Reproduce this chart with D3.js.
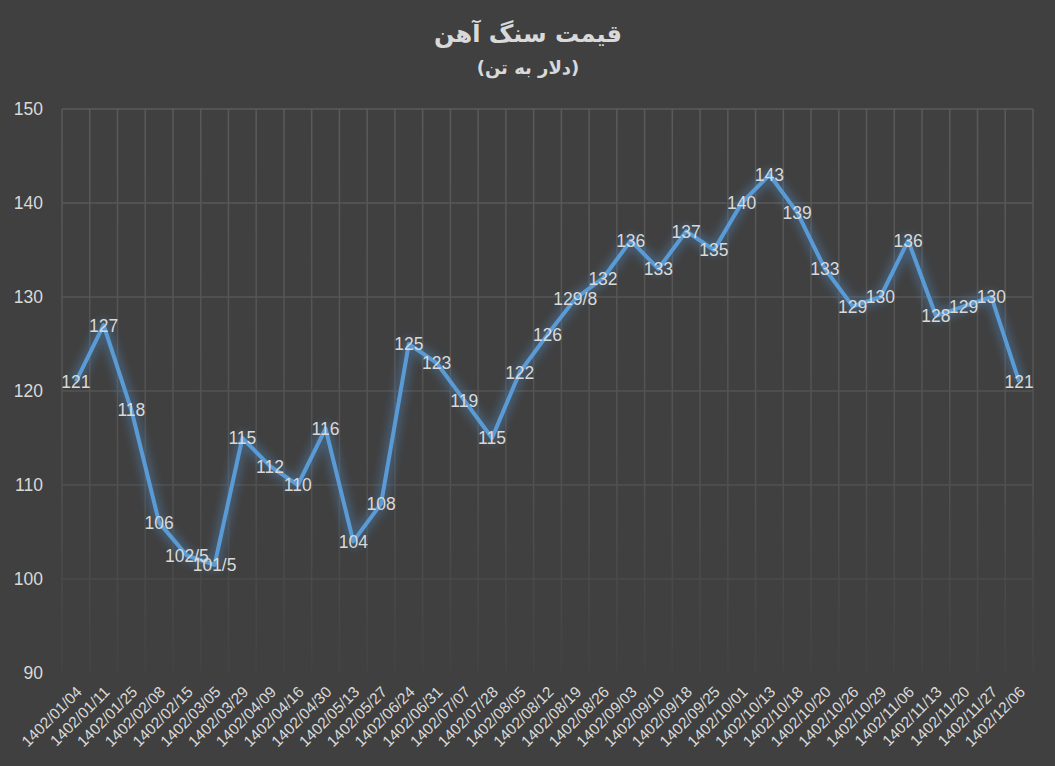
<!DOCTYPE html>
<html>
<head>
<meta charset="utf-8">
<script src="https://cdn.jsdelivr.net/npm/d3@7"></script>
<style>
  html, body { margin: 0; padding: 0; background: #404040; }
  svg { display: block; }
</style>
</head>
<body>
<svg id="chart"></svg>
<script>
// Dates (Solar Hijri) and iron ore price, dollars per tonne
const dates = [
    "1402/01/04", "1402/01/11", "1402/01/25", "1402/02/08", "1402/02/15",
    "1402/03/05", "1402/03/29", "1402/04/09", "1402/04/16", "1402/04/30",
    "1402/05/13", "1402/05/27", "1402/06/24", "1402/06/31", "1402/07/07",
    "1402/07/28", "1402/08/05", "1402/08/12", "1402/08/19", "1402/08/26",
    "1402/09/03", "1402/09/10", "1402/09/18", "1402/09/25", "1402/10/01",
    "1402/10/13", "1402/10/18", "1402/10/20", "1402/10/26", "1402/10/29",
    "1402/11/06", "1402/11/13", "1402/11/20", "1402/11/27", "1402/12/06"
];
const prices = [
    121, 127, 118, 106, 102.5,
    101.5, 115, 112, 110, 116,
    104, 108, 125, 123, 119,
    115, 122, 126, 129.8, 132,
    136, 133, 137, 135, 140,
    143, 139, 133, 129, 130,
    136, 128, 129, 130, 121
];
const yTicks = [90, 100, 110, 120, 130, 140, 150];
const titleText = "قیمت سنگ آهن";
const subtitleText = "(دلار به تن)";

document.addEventListener('DOMContentLoaded', function () {
    drawChart('chart');
});

function drawChart(id) {
    const svgWidth = 1055;
    const svgHeight = 766;
    const margin = { top: 109, right: 22, bottom: 93, left: 62 };
    const width = svgWidth - margin.left - margin.right;
    const height = svgHeight - margin.top - margin.bottom;
    const textColor = "#d9d9d9";

    const root = d3.select(`#${id}`)
        .attr("width", svgWidth)
        .attr("height", svgHeight);

    root.append("rect")
        .attr("width", svgWidth)
        .attr("height", svgHeight)
        .attr("fill", "#404040");

    const defs = root.append("defs");

    // grid fades out toward the bottom
    const grad = defs.append("linearGradient")
        .attr("id", "gridFade")
        .attr("gradientUnits", "userSpaceOnUse")
        .attr("x1", 0).attr("y1", 0)
        .attr("x2", 0).attr("y2", height);
    grad.append("stop").attr("offset", "0%").attr("stop-color", "#5a5a5a");
    grad.append("stop").attr("offset", "65%").attr("stop-color", "#515151");
    grad.append("stop").attr("offset", "100%").attr("stop-color", "#434343");

    // soft glow under the line
    const glow = defs.append("filter")
        .attr("id", "glow")
        .attr("x", "-10%").attr("y", "-10%")
        .attr("width", "120%").attr("height", "120%");
    glow.append("feGaussianBlur")
        .attr("in", "SourceGraphic")
        .attr("stdDeviation", 4.5);

    const svg = root.append("g")
        .attr("transform", `translate(${margin.left},${margin.top})`);

    const x = d3.scaleBand()
        .domain(dates)
        .range([0, width]);

    const y = d3.scaleLinear()
        .domain([90, 150])
        .range([height, 0]);

    const cx = d => x(d) + x.bandwidth() / 2;

    // vertical grid at category boundaries
    const bounds = dates.map(d => x(d)).concat([width]);
    svg.append("g")
        .attr("class", "grid x-grid")
        .selectAll("line")
        .data(bounds)
        .join("line")
        .attr("x1", d => d)
        .attr("x2", d => d)
        .attr("y1", 0)
        .attr("y2", height)
        .attr("stroke", "url(#gridFade)")
        .attr("stroke-width", 1.5);

    // horizontal grid
    svg.append("g")
        .attr("class", "grid y-grid")
        .selectAll("line")
        .data(yTicks.filter(t => t > 90))
        .join("line")
        .attr("x1", 0)
        .attr("x2", width)
        .attr("y1", d => y(d))
        .attr("y2", d => y(d))
        .attr("stroke", "url(#gridFade)")
        .attr("stroke-width", 1.5);

    // Y axis labels
    const yAxis = svg.append("g")
        .attr("class", "axis y-axis")
        .call(d3.axisLeft(y).tickValues(yTicks).tickSize(0).tickPadding(19));
    yAxis.select(".domain").remove();
    yAxis.selectAll("text")
        .attr("fill", textColor)
        .attr("font-size", 17.5)
        .attr("font-family", "'Liberation Sans', Arial, sans-serif");

    // X axis labels, rotated
    const xAxis = svg.append("g")
        .attr("class", "axis x-axis")
        .attr("transform", `translate(0,${height})`)
        .call(d3.axisBottom(x).tickSize(0).tickPadding(0));
    xAxis.select(".domain").remove();
    xAxis.selectAll("text")
        .attr("fill", textColor)
        .attr("font-size", 15.5)
        .attr("font-family", "'Liberation Sans', Arial, sans-serif")
        .attr("text-anchor", "end")
        .attr("dy", 0)
        .attr("y", 0)
        .attr("transform", "translate(7,20) rotate(-45)");

    // line
    const line = d3.line()
        .x((d, i) => cx(dates[i]))
        .y(d => y(d));

    svg.append("path")
        .attr("d", line(prices))
        .attr("fill", "none")
        .attr("stroke", "#4f86bd")
        .attr("stroke-opacity", 0.4)
        .attr("stroke-width", 12)
        .attr("stroke-linejoin", "round")
        .attr("filter", "url(#glow)");

    svg.append("path")
        .attr("d", line(prices))
        .attr("fill", "none")
        .attr("stroke", "#5b9bd5")
        .attr("stroke-width", 4)
        .attr("stroke-linejoin", "round");

    // data labels centered on the points
    svg.append("g")
        .attr("class", "data-labels")
        .selectAll("text")
        .data(prices)
        .join("text")
        .attr("x", (d, i) => cx(dates[i]))
        .attr("y", d => y(d))
        .attr("dy", "0.36em")
        .attr("text-anchor", "middle")
        .attr("fill", textColor)
        .attr("font-size", 17.5)
        .attr("font-family", "'Liberation Sans', Arial, sans-serif")
        .text(d => String(d).replace(".", "/"));

    // titles
    root.append("text")
        .attr("x", 528)
        .attr("y", 42)
        .attr("text-anchor", "middle")
        .attr("fill", textColor)
        .attr("font-size", 24)
        .attr("font-weight", "bold")
        .attr("font-family", "'DejaVu Sans', sans-serif")
        .text(titleText);

    root.append("text")
        .attr("x", 528)
        .attr("y", 74)
        .attr("text-anchor", "middle")
        .attr("fill", textColor)
        .attr("font-size", 18)
        .attr("font-weight", "bold")
        .attr("font-family", "'DejaVu Sans', sans-serif")
        .text(subtitleText);
}
</script>
</body>
</html>
